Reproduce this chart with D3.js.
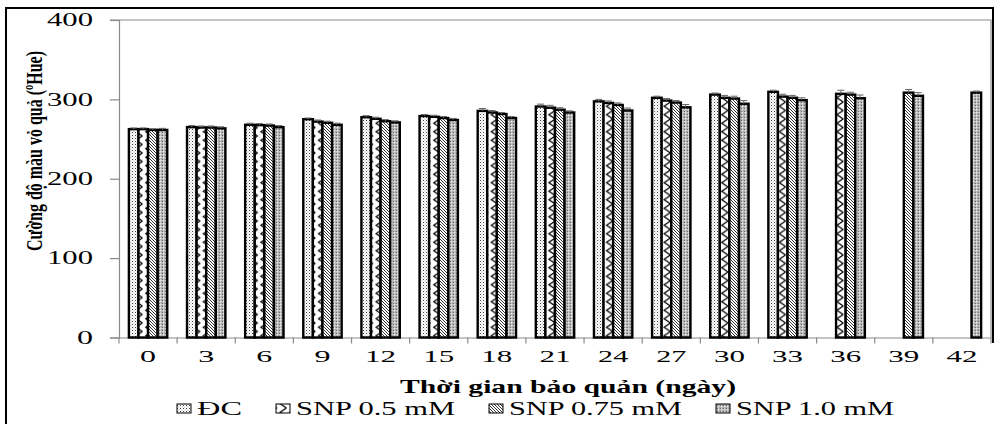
<!DOCTYPE html>
<html>
  <head>
    <meta charset="utf-8">
    <script src="https://d3js.org/d3.v7.min.js"></script>
    <style>
      body { margin: 0; background: #fff; }
      text { font-family: "Liberation Serif", "Times New Roman", serif; fill: #000; }
    </style>
  </head>
  <body>
    <svg width="994" height="424"></svg>
    <script>

      // data
      const days = [0, 3, 6, 9, 12, 15, 18, 21, 24, 27, 30, 33, 36, 39, 42];
      const seriesNames = ["ĐC", "SNP 0.5 mM", "SNP 0.75 mM", "SNP 1.0 mM"];
      const dc     = [262.5, 265, 268, 275, 277.5, 279, 285.5, 291, 297.5, 302, 306, 309.5, null, null, null];
      const snp05  = [262.5, 264.5, 267.5, 272, 275.5, 278, 283.5, 289.5, 295.5, 298.5, 302, 303.5, 307, null, null];
      const snp075 = [261.5, 264.5, 267, 270.5, 272.5, 276.5, 281.5, 287, 293, 296, 301, 302, 306, 308.5, null];
      const snp10  = [261.5, 263.5, 265, 268, 271, 274, 276.5, 283.5, 286, 290, 294.5, 299, 301.5, 304.5, 308.5];
      const errDc     = [1.5, 2, 2, 1.5, 2, 2, 3, 3, 2.5, 2, 2, 2, 0, 0, 0];
      const errSnp05  = [1.5, 2, 2, 2, 2, 2, 2.5, 3, 2.5, 2.5, 3, 3, 4.5, 0, 0];
      const errSnp075 = [1.5, 2, 2, 2, 2, 2, 2, 2.5, 2.5, 2.5, 3, 3, 3, 4, 0];
      const errSnp10  = [2, 2, 2, 2, 2, 2, 2, 2, 3, 3.5, 4, 3, 4, 4, 2];
      const yTicks = [0, 100, 200, 300, 400];

      const allValues = [dc, snp05, snp075, snp10];
      const allErrors = [errDc, errSnp05, errSnp075, errSnp10];
      const rows = [];
      days.forEach((d, i) => {
        seriesNames.forEach((s, j) => {
          if (allValues[j][i] != null) rows.push({ day: d, series: s, value: allValues[j][i], err: allErrors[j][i] });
        });
      });

      const svg = d3.select('svg');
      const plotL = 119, plotR = 991, plotT = 20, plotB = 337.5;
      const axisGray = "#8a8a8a";

      // stretch text horizontally around its anchor point (the source picture is widened)
      function stretch(sel, widthOf) {
        sel.each(function (d) {
          const w = this.getBBox().width;
          const sx = widthOf(d) / w;
          const ax = +this.getAttribute('x') || 0;
          d3.select(this).attr('transform', `translate(${ax},0) scale(${sx},1) translate(${-ax},0)`);
        });
      }

      // patterns for the four series
      const defs = svg.append('defs');
      const pDots = defs.append('pattern').attr('id', 'p0').attr('patternUnits', 'userSpaceOnUse')
          .attr('width', 3).attr('height', 3);
      pDots.append('rect').attr('width', 3).attr('height', 3).attr('fill', '#fff');
      pDots.append('rect').attr('x', 0).attr('y', 0).attr('width', 1).attr('height', 1).attr('fill', '#444');
      pDots.append('rect').attr('x', 1.5).attr('y', 1.5).attr('width', 1).attr('height', 1).attr('fill', '#aaa');

      const pZig = defs.append('pattern').attr('id', 'p1').attr('patternUnits', 'userSpaceOnUse')
          .attr('width', 9.6).attr('height', 8.5);
      pZig.append('rect').attr('width', 9.6).attr('height', 8.5).attr('fill', '#fff');
      pZig.append('path').attr('d', 'M8,0 L1.8,4.25 L8,8.5').attr('fill', 'none').attr('stroke', '#000').attr('stroke-width', 1.3);

      const pDiag = defs.append('pattern').attr('id', 'p2').attr('patternUnits', 'userSpaceOnUse')
          .attr('width', 3).attr('height', 3);
      pDiag.append('rect').attr('width', 3).attr('height', 3).attr('fill', '#fff');
      pDiag.append('path').attr('d', 'M-1,-1 L4,4 M-1,2 L1,4 M2,-1 L4,1').attr('stroke', '#333').attr('stroke-width', 1);

      const pGrid = defs.append('pattern').attr('id', 'p3').attr('patternUnits', 'userSpaceOnUse')
          .attr('width', 3).attr('height', 3);
      pGrid.append('rect').attr('width', 3).attr('height', 3).attr('fill', '#aaa');
      pGrid.append('circle').attr('cx', 1.5).attr('cy', 1.5).attr('r', 0.9).attr('fill', '#eee');
      pGrid.append('rect').attr('x', 0).attr('y', 0).attr('width', 0.8).attr('height', 0.8).attr('fill', '#444');

      const fillOf = d3.scaleOrdinal().domain(seriesNames).range(['url(#p0)', 'url(#p1)', 'url(#p2)', 'url(#p3)']);

      // outer frame
      svg.append('path')
          .attr('d', `M6,424 L6,8 L993,8 L993,343`)
          .attr('fill', 'none').attr('stroke', '#000').attr('stroke-width', 2);

      // scales
      const x = d3.scaleBand().domain(days).range([plotL, plotR]).padding(0);
      const xSub = d3.scaleBand().domain(seriesNames).range([0, x.bandwidth()])
          .paddingInner(0).paddingOuter(1.03);
      const y = d3.scaleLinear().domain([0, 400]).range([plotB, plotT]);

      // plot area border (top / right)
      svg.append('path')
          .attr('d', `M${plotL - 9},${plotT} L${plotR},${plotT} L${plotR},${plotB}`)
          .attr('fill', 'none').attr('stroke', axisGray).attr('stroke-width', 1.2);

      // y axis
      const yAxis = svg.append('g')
          .attr('transform', `translate(${plotL}, 0)`)
          .call(d3.axisLeft(y).tickValues(yTicks).tickSize(9).tickPadding(17));
      yAxis.select('.domain').attr('stroke', axisGray).attr('stroke-width', 1.2);
      yAxis.selectAll('line').attr('stroke', axisGray).attr('stroke-width', 1.2);
      yAxis.selectAll('text').style('font-size', '18px');
      stretch(yAxis.selectAll('text'), d => String(d).length * 15 + 1);

      // x axis
      const xAxis = svg.append('g')
          .attr('transform', `translate(0, ${plotB})`)
          .call(d3.axisBottom(x).tickSize(0).tickPadding(12).tickSizeOuter(0));
      xAxis.select('.domain').attr('stroke', axisGray).attr('stroke-width', 1.2);
      xAxis.selectAll('text').style('font-size', '17px');
      stretch(xAxis.selectAll('text'), d => String(d).length * 15 + 1);
      xAxis.selectAll('.boundary')
        .data(days.map(d => x(d)).concat([x.range()[1]]))
        .enter()
        .append('line')
        .attr('x1', d => d).attr('x2', d => d)
        .attr('y1', 0).attr('y2', 6)
        .attr('stroke', axisGray).attr('stroke-width', 1.2);

      // bars
      svg.append('g').selectAll('rect')
        .data(rows)
        .enter()
        .append('rect')
        .attr('x', d => x(d.day) + xSub(d.series))
        .attr('y', d => y(d.value))
        .attr('width', xSub.bandwidth())
        .attr('height', d => y(0) - y(d.value))
        .attr('fill', d => fillOf(d.series))
        .attr('stroke', '#000')
        .attr('stroke-width', 2.4);

      // error bars
      const eb = svg.append('g').attr('stroke', '#666').attr('stroke-width', 1);
      const ebRows = rows.filter(d => d.err > 0);
      eb.selectAll('.v').data(ebRows).enter().append('line')
        .attr('x1', d => x(d.day) + xSub(d.series) + xSub.bandwidth() / 2)
        .attr('x2', d => x(d.day) + xSub(d.series) + xSub.bandwidth() / 2)
        .attr('y1', d => y(d.value))
        .attr('y2', d => y(d.value + d.err));
      eb.selectAll('.c').data(ebRows).enter().append('line')
        .attr('x1', d => x(d.day) + xSub(d.series) + xSub.bandwidth() / 2 - 3.5)
        .attr('x2', d => x(d.day) + xSub(d.series) + xSub.bandwidth() / 2 + 3.5)
        .attr('y1', d => y(d.value + d.err))
        .attr('y2', d => y(d.value + d.err));

      // axis titles
      svg.append('text')
          .attr('x', 568).attr('y', 393)
          .attr('text-anchor', 'middle')
          .style('font-size', '19px').style('font-weight', 'bold')
          .attr('textLength', 336).attr('lengthAdjust', 'spacingAndGlyphs')
          .text('Thời gian bảo quản (ngày)');

      // y title: squeezed along the reading direction, glyphs kept tall
      const yTitle = svg.append('text')
          .attr('text-anchor', 'middle')
          .style('font-size', '20px').style('font-weight', 'bold')
          .text('Cường độ màu vỏ quả (ºHue)');
      const yTitleLen = yTitle.node().getComputedTextLength();
      yTitle.attr('transform', `translate(42, 151) rotate(-90) scale(${200 / yTitleLen}, 1.15)`);

      // legend
      const legendTextW = [45, 159, 173, 158];
      let lx = 177;
      seriesNames.forEach((s, i) => {
        svg.append('rect')
            .attr('x', lx).attr('y', 404).attr('width', 14).attr('height', 9)
            .attr('fill', fillOf(s)).attr('stroke', '#000').attr('stroke-width', 1);
        svg.append('text')
            .attr('x', lx + 20).attr('y', 415)
            .style('font-size', '19px')
            .attr('textLength', legendTextW[i]).attr('lengthAdjust', 'spacingAndGlyphs')
            .text(s);
        lx += 20 + legendTextW[i] + 34;
      });

    </script>
  </body>
</html>
